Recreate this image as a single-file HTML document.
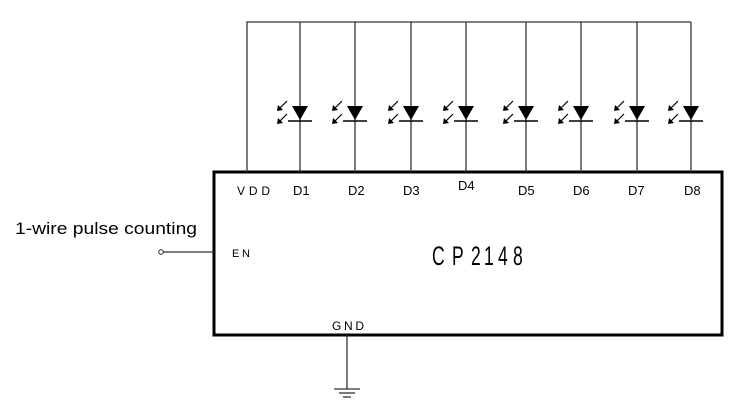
<!DOCTYPE html>
<html><head><style>body{margin:0;background:#fff}svg{display:block}</style></head><body>
<svg width="750" height="411" xmlns="http://www.w3.org/2000/svg" font-family="Liberation Sans, sans-serif">
<rect x="214" y="172" width="508" height="163" fill="none" stroke="#000" stroke-width="3"/>
<g stroke="#333" stroke-width="1.3" fill="none">
<polyline points="247,172 247,22 691,22"/>
<line x1="300" y1="22" x2="300" y2="172"/><line x1="355" y1="22" x2="355" y2="172"/>
<line x1="411" y1="22" x2="411" y2="172"/><line x1="466" y1="22" x2="466" y2="172"/>
<line x1="526" y1="22" x2="526" y2="172"/><line x1="581" y1="22" x2="581" y2="172"/>
<line x1="637" y1="22" x2="637" y2="172"/><line x1="691" y1="22" x2="691" y2="172"/>
<line x1="163" y1="252" x2="214" y2="252"/>
<line x1="347" y1="335" x2="347" y2="389"/>
<line x1="334" y1="389" x2="360" y2="389"/><line x1="339" y1="393" x2="355" y2="393"/><line x1="343" y1="397" x2="351" y2="397"/>
</g>
<circle cx="161" cy="252" r="2.3" fill="#fff" stroke="#333" stroke-width="1"/>
<defs>
<g id="d">
<polygon points="-8,106 8,106 0,120" fill="#000"/>
<line x1="-12" y1="121" x2="12" y2="121" stroke="#000" stroke-width="1.5"/>
<g stroke="#000" stroke-width="1.2">
<line x1="-13" y1="101" x2="-22" y2="110"/><line x1="-13" y1="114" x2="-22" y2="123"/>
</g>
<polygon points="-23,111 -22,105 -17,110" fill="#000"/>
<polygon points="-23,124 -22,118 -17,123" fill="#000"/>
</g>
</defs>
<use href="#d" x="300"/><use href="#d" x="355"/><use href="#d" x="411"/><use href="#d" x="466"/>
<use href="#d" x="526"/><use href="#d" x="581"/><use href="#d" x="637"/><use href="#d" x="691"/>
<g font-size="13" fill="#000">
<text x="237" y="195" font-size="12" textLength="33" lengthAdjust="spacing">V D D</text>
<text x="293" y="195">D1</text><text x="348" y="195">D2</text><text x="403" y="195">D3</text>
<text x="458" y="190">D4</text><text x="518" y="195">D5</text><text x="573" y="195">D6</text>
<text x="628" y="195">D7</text><text x="684" y="195">D8</text>
<text x="232" y="257" font-size="11" textLength="18" lengthAdjust="spacing">E N</text>
<text x="332" y="330" font-size="12" textLength="32" lengthAdjust="spacing">G N D</text>
<g font-size="27">
<text transform="translate(432,265) scale(0.65,1)">C</text>
<text transform="translate(452,265) scale(0.65,1)">P</text>
<text transform="translate(471,265) scale(0.65,1)">2</text>
<text transform="translate(484,265) scale(0.65,1)">1</text>
<text transform="translate(498,265) scale(0.65,1)">4</text>
<text transform="translate(513,265) scale(0.65,1)">8</text>
</g>
<text x="15" y="234" font-size="17" textLength="182" lengthAdjust="spacingAndGlyphs">1-wire pulse counting</text>
</g>
</svg>
</body></html>
